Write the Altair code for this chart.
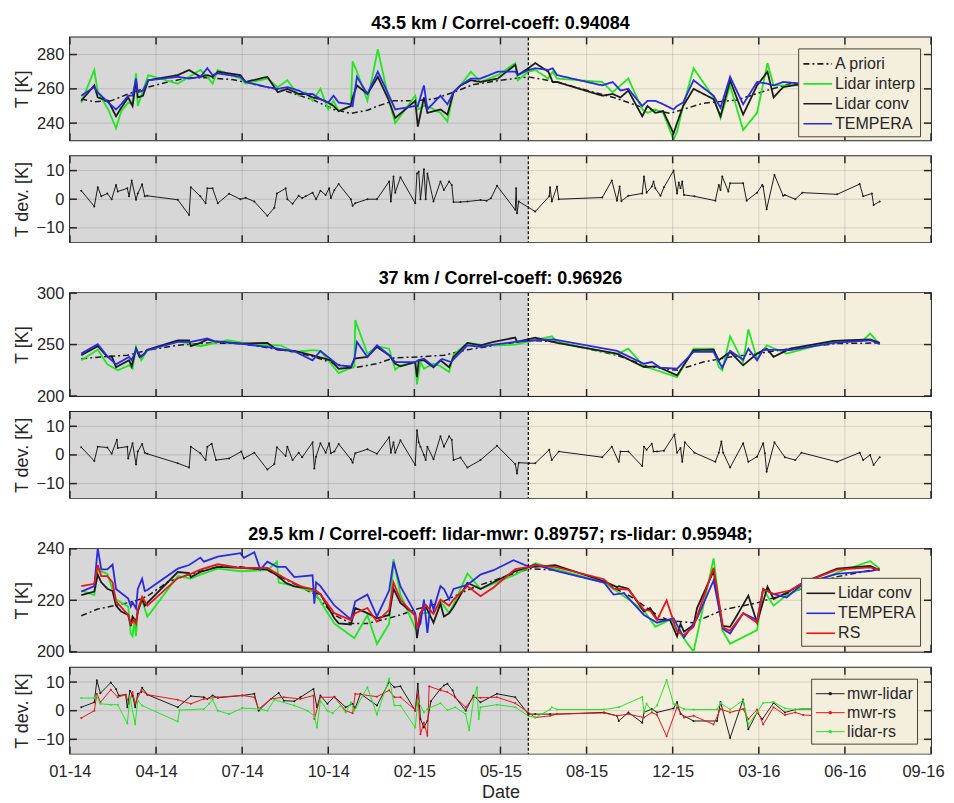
import altair as alt
import pandas as pd

FONT = "Liberation Sans"
INK = "#262626"
GRAY_BG = "#d7d7d7"
BEIGE_BG = "#f4eedd"
GREEN = "#22e622"
BLUE = "#2a2ae0"
RED = "#e8161b"
BLACK = "#1c1c1c"

W = 862
H_MAIN = 103
H_DEV = 86

BASE = pd.Timestamp("2014-01-01")
X_START, X_END = "2014-01-07", "2016-09-23"
SPLIT_DATE = "2015-06-18"
TICK_DATES = ["2014-01-07", "2014-04-16", "2014-07-24", "2014-10-31", "2015-02-07",
              "2015-05-17", "2015-08-24", "2015-12-01", "2016-03-09", "2016-06-16", "2016-09-23"]

TITLES = ["43.5 km / Correl-coeff: 0.94084",
          "37 km / Correl-coeff: 0.96926",
          "29.5 km / Correl-coeff: lidar-mwr: 0.89757;  rs-lidar: 0.95948;"]

# ---- data: (day since 2014-01-01, value) ----
P43_APRIORI = [(19,254),(34,252.5),(53,253),(73,257),(96,261),(119,264),(142,266.5),(164,266.5),(194,265.3),(225,261.8),(256,258.4),(286,253.5),(309,248),(329,245.7),(348,247.5),(360,250),(378,253),(401,253),(424,254),(447,258),(470,262.5),(501,265),(533,267),(566,264),(601,259),(631,255),(665,249),(696,245.7),(734,251.6),(773,253.5),(803,258.4),(834,263),(868,265),(903,266),(937,266)]
P43_INTERP = [(19,252),(34,271),(38,258),(50,248),(59,237),(65,247),(73,252),(78,251),(82,269),(84,250),(90,259),(96,268),(130,263),(143,267),(156,271),(164,267),(170,263),(176,271),(202,266),(208,263),(233,266),(245,261),(256,265),(269,256),(277,258),(285,253),(294,260),(303,248),(309,253),(315,247),(329,250),(331,276),(336,270),(348,253),(360,283),(372,255),(380,240),(403,256),(406,248),(413,250),(417,250),(432,246),(440,241),(447,258),(455,262),(467,270),(478,264),(498,268),(518,275),(521,265),(533,270),(541,271),(556,266),(561,270),(566,266),(618,264),(630,258),(639,262),(648,266),(664,248),(670,246),(679,248),(688,246),(700,230.5),(704,235),(711,250),(723,272),(746,255),(754,243),(765,262),(780,236),(796,246),(808,275),(815,262),(826,262),(848,262),(888,265),(914,267),(926,262),(937,262)]
P43_CONV = [(19,253),(34,262),(38,255),(50,253),(59,244),(65,249),(73,255),(78,250),(82,265),(84,255),(90,256),(96,265),(130,268),(143,271),(156,267),(164,268),(170,267),(176,270),(202,268),(208,264),(233,267),(245,258),(256,260),(269,257),(277,257),(285,255),(294,254),(303,252),(309,250),(315,247),(329,250),(331,255),(336,262),(348,257),(360,267),(372,254),(380,243),(403,253),(406,238),(413,255),(417,246),(432,248),(440,245),(447,258),(455,262),(467,265),(478,264),(498,266),(518,274),(521,268),(533,272),(541,275),(556,270),(561,264),(566,264),(618,256),(630,257),(639,255),(648,259),(664,244),(670,250),(679,246),(688,247),(700,234),(704,240),(711,250),(723,260),(746,254),(754,244),(765,265),(780,245),(796,262),(808,270),(815,255),(826,261),(848,263),(888,264),(914,266),(926,262),(937,263)]
P43_TEMPERA = [(19,256),(34,261),(38,258),(50,252),(59,248),(65,251),(73,256),(78,256),(82,266),(84,258),(90,259),(96,265),(130,267),(143,266),(156,267),(164,272),(170,268),(176,269),(202,267),(208,264),(233,261),(245,260),(256,261),(269,259),(277,257),(285,257),(294,254),(303,252),(309,256),(315,252),(329,251),(331,250),(336,267),(348,257),(360,270),(372,257),(380,248),(403,250),(406,250),(413,262),(417,248),(432,256),(440,251),(447,258),(455,262),(467,266),(478,266),(498,270),(518,270),(521,268),(533,271),(541,272),(556,271),(561,272),(566,268),(618,262),(630,264),(639,259),(648,260),(664,250),(670,253),(679,253),(688,251),(700,248),(704,250),(711,252),(723,265),(746,256),(754,249),(765,267),(780,251),(796,264),(808,263),(815,262),(826,264),(848,263),(888,264),(914,265),(926,263),(937,262)]
P43_DEV = [(19,3),(34,-2.5),(38,4.2),(42,1),(49,2),(54,0),(59,5),(61,2.7),(72,3.8),(74,1),(77,6.5),(82,-0.2),(84,2),(89,5.2),(92,1),(95,1.2),(130,-0.2),(143,-5.5),(145,4.2),(156,1),(162,-1.4),(164,3.8),(170,3.8),(176,-1.4),(189,1.9),(202,0),(208,0.5),(218,-0.8),(233,-5.8),(241,-3),(244,2),(254,3.8),(256,0),(262,-1.6),(269,1.2),(273,0.4),(277,1),(285,2.3),(289,0),(294,3),(300,1.5),(304,3.8),(306,0.4),(310,3.2),(315,5.3),(329,0),(331,-2.3),(334,-1.4),(348,0),(359,0),(373,6.2),(375,-0.8),(378,7.9),(380,2.3),(386,7.7),(403,-1.4),(405,9),(407,9.6),(409,0),(413,10.5),(415,0),(417,9),(424,-0.8),(432,6.2),(436,3.2),(442,6.2),(445,5),(447,-1),(455,-1),(463,-0.8),(478,-0.3),(485,-0.5),(490,0.3),(497,4.7),(518,-3.7),(519,3.8),(520,-4.9),(522,-0.8),(541,-4.3),(557,1),(558,4.2),(560,-0.8),(566,4.4),(568,0),(618,0.6),(629,6.5),(635,-0.5),(638,4.4),(640,-0.6),(648,1.2),(664,2),(666,7.9),(669,2.3),(675,4.4),(677,6.2),(679,3.8),(685,1.2),(689,4.2),(700,10),(704,2),(706,5.8),(708,3.8),(710,6.2),(712,1.5),(724,1),(748,-0.5),(752,5),(754,3.2),(756,7.9),(763,2.7),(765,5.6),(780,5.6),(784,-0.5),(796,2.3),(802,5),(803,4.4),(807,-3.5),(816,8.5),(826,1.2),(828,1.5),(840,0),(848,2.3),(888,1.7),(914,5.3),(918,1),(928,2),(930,-2),(937,-0.8)]

P37_APRIORI = [(19,236.3),(42,238),(72,239.6),(95,244.5),(130,249.3),(164,251.6),(202,251),(233,247),(264,242.8),(287,238),(310,231.4),(333,227.5),(359,231.4),(378,237),(405,238),(436,239.6),(463,245),(478,247),(534,254.2),(566,252.6),(635,239.6),(670,228.8),(704,225),(734,233),(765,238),(796,241.2),(834,246),(888,251),(937,251.6)]
P37_INTERP = [(19,234.7),(38,245),(49,230.8),(61,225),(74,229.8),(78,226.5),(82,247.7),(88,234.7),(95,244.5),(130,253),(143,251),(156,248.4),(187,254.2),(218,250),(248,249.3),(264,242.8),(285,244.5),(294,243.8),(315,222.3),(333,228.8),(334,273.8),(348,241.2),(359,248.4),(373,246),(380,225.6),(386,229.8),(403,233),(405,211.2),(409,233),(413,226.5),(424,231.4),(432,229),(442,223.3),(447,240),(463,251.6),(478,250),(497,249.3),(518,250),(541,254.2),(560,258),(566,252.6),(635,240.5),(648,246),(666,228.8),(675,226.5),(704,218.4),(723,246),(746,246),(752,228.2),(756,225),(765,258),(780,233),(786,264.7),(796,236.3),(807,249.3),(830,241.2),(884,253.3),(918,254.2),(926,260.7),(937,250.3)]
P37_CONV = [(19,239.6),(38,248.4),(49,238),(54,238.6),(59,228),(74,234.7),(77,228.8),(82,246),(86,238),(91,240.5),(95,245),(130,254),(143,254),(145,248.4),(156,251.6),(164,255),(172,253),(202,251),(233,251.6),(244,245),(264,243.8),(285,239.6),(306,234.7),(315,226.5),(329,227.5),(333,236.3),(348,238),(359,247.7),(373,239.6),(380,231.4),(386,228.8),(403,233),(405,218.4),(407,234.7),(413,234.7),(424,228),(432,234.7),(442,228),(447,238),(463,251.6),(478,249.3),(493,252.6),(518,256.8),(520,252.6),(541,256.8),(566,251.6),(635,241.2),(666,228.2),(681,228.8),(704,220),(723,244.5),(746,245),(752,234.7),(757,238),(765,242.8),(780,229.8),(796,241.2),(807,246),(815,238),(834,246),(884,253.6),(926,254.9),(937,251.6)]
P37_TEMPERA = [(19,241.2),(38,250.3),(49,238.6),(59,230.8),(74,238),(77,234.7),(82,245),(88,238),(95,244.5),(130,252.6),(145,252.6),(164,255.9),(172,253.3),(202,251),(233,247.7),(264,243.5),(285,234.7),(294,243.8),(315,229.8),(329,228.8),(333,235.3),(336,252.6),(348,238),(359,249.3),(373,239.6),(380,233),(403,233),(407,235),(413,236.3),(424,228.8),(434,236),(444,233),(463,249.3),(478,247.7),(493,250),(518,252.6),(541,254.2),(562,255),(635,243.8),(666,231.4),(675,233),(685,227.5),(704,226.5),(723,242.8),(746,242.8),(756,227.5),(765,243.8),(780,235.3),(786,246),(796,234.7),(803,245),(834,244.5),(884,251.6),(926,254.2),(937,250.3)]
P37_DEV = [(19,2.7),(34,-2.1),(38,2.9),(49,2.6),(54,0.4),(60,5.3),(61,2.4),(72,2.9),(73,-1.2),(78,4.1),(82,-3.3),(84,1.2),(89,3.8),(92,0.8),(95,0.4),(130,-2.9),(143,-4.4),(145,2.9),(156,0.6),(162,-1.8),(164,2.9),(169,3.9),(174,-1.8),(189,-1.2),(203,1.2),(206,-1.2),(218,0.8),(233,-5.1),(241,-3.2),(244,2.7),(254,-0.4),(256,2.9),(262,-1.8),(269,0.8),(273,-0.8),(285,4.4),(287,-4.7),(289,-0.6),(294,4.1),(300,0.8),(304,4.1),(306,0.6),(310,1.2),(315,3.8),(329,-1.5),(331,-2.7),(334,0.6),(348,2),(359,0.4),(373,6.2),(375,0.8),(378,4.4),(380,0.8),(386,5.1),(403,-3.5),(405,8.6),(407,4.4),(409,2.9),(413,0),(415,-1.8),(417,2.9),(424,-1.5),(432,6.5),(436,2.9),(442,6.5),(445,5.3),(447,-1.8),(455,-0.9),(463,-4.4),(478,-1.8),(497,3.2),(518,-3.2),(520,-6.5),(522,-2.7),(534,-2.9),(541,-2.9),(557,1.8),(560,-1.8),(568,1.2),(618,-0.8),(629,2.9),(637,-2.4),(639,1.2),(648,1.2),(664,-3.9),(666,2.9),(669,1.8),(675,3.9),(677,1.2),(681,1.2),(689,1.5),(701,7.1),(704,0.8),(708,2.4),(710,-2.4),(713,4.4),(724,0.8),(748,-2.4),(752,0.8),(755,4.7),(757,0.8),(765,-4.4),(780,4.1),(786,-2.4),(796,-0.6),(803,4.1),(805,0.6),(807,-5.9),(816,4.4),(828,-0.8),(840,-1.8),(847,0.8),(888,-2.4),(914,0.8),(918,-1.8),(926,0),(930,-3.5),(937,-0.8)]

P29_APRIORI = [(19,214),(38,216.6),(57,217.9),(80,219.6),(95,221.6),(118,227),(145,230.3),(176,233),(202,233),(233,231.7),(264,226.4),(287,222.4),(310,214.3),(329,211),(348,211),(367,212.5),(386,214.3),(405,216.6),(432,219),(463,224),(478,226),(534,232.3),(566,231.7),(620,226.9),(650,221.6),(681,214.3),(696,212),(723,211.3),(757,216.3),(796,219),(834,222.9),(888,229.2),(937,232.3)]
P29_INTERP = [(19,223.8),(34,222),(38,231.7),(49,230.3),(59,220.3),(73,217.6),(76,207),(78,206),(80,212),(82,206),(84,216),(89,220),(95,213.6),(130,229.4),(145,228.4),(156,230),(176,232.3),(202,231.3),(233,231.7),(244,235),(246,226.9),(264,225.5),(285,223.5),(289,222.2),(310,210.9),(333,205.3),(348,214.3),(359,203),(373,210.9),(378,236),(386,222.2),(405,207.7),(409,215),(424,215.2),(432,219.6),(442,215),(447,218.3),(463,230.4),(478,224.4),(497,227),(518,230),(541,234.4),(566,232),(620,226.9),(643,221.6),(666,216),(679,209.7),(696,212.5),(723,200),(746,236.3),(756,208.4),(765,203.1),(796,208.4),(803,224.4),(815,217.9),(830,222),(849,225),(888,230.8),(926,235.2),(937,232.3)]
P29_CONV = [(19,222),(34,223.4),(38,230),(42,227),(49,224.5),(55,223.6),(59,217.9),(65,215.6),(73,214.3),(76,210),(78,213.7),(82,211.7),(84,215.6),(89,220.7),(92,217.9),(95,219),(130,231),(143,230.6),(145,229),(156,231),(176,233),(202,232.6),(233,232),(244,229.7),(254,226.8),(264,225.4),(285,224.4),(289,222.8),(294,222.4),(310,213),(315,211),(329,210.6),(334,217),(348,215),(359,213),(373,214.3),(378,224.5),(386,219),(403,214.3),(405,205.3),(409,215),(415,217.6),(424,211.3),(432,218.7),(436,213.7),(442,215),(447,217.4),(463,226.8),(478,224.4),(493,227),(518,231.3),(534,233),(541,233),(564,233.7),(620,227.4),(635,225.1),(637,225.5),(648,224.5),(666,215.6),(673,217),(681,212.6),(696,212.3),(704,206),(708,210.8),(712,207.8),(723,210.4),(727,217),(746,231.3),(756,210),(765,209.7),(771,213),(786,221.8),(796,211.3),(808,225.3),(815,220.5),(834,223.6),(849,226.9),(888,232.3),(926,233.4),(937,231.7)]
P29_TEMPERA = [(19,223.4),(34,225.5),(38,240.3),(42,232),(49,232),(55,233.9),(59,224.4),(73,220.7),(76,217.6),(78,219.2),(82,216.8),(84,224.4),(89,228.4),(92,223.6),(95,224),(130,232.3),(143,233.7),(156,236.6),(160,235),(176,237),(202,238.3),(206,236.5),(218,238.7),(225,232),(233,235),(244,233),(254,233),(264,229),(285,229.7),(287,218.7),(289,227),(294,225.5),(310,218),(329,212.6),(334,219.6),(348,222.2),(359,213.7),(373,223.8),(378,235),(386,225.4),(403,215),(405,208.6),(409,211),(413,220.3),(417,207.3),(421,220.3),(424,216.3),(432,225.5),(436,224.4),(442,220.3),(447,224.4),(463,226),(478,230),(493,231.7),(516,235.6),(534,233),(541,233.9),(566,231.3),(620,226.9),(631,222.2),(643,222.8),(666,214.3),(681,211.3),(700,213),(712,205.5),(727,213),(746,227.7),(757,208.8),(765,207.1),(780,215),(796,212.3),(803,224.4),(815,222.4),(830,221.1),(849,226.5),(888,230.3),(926,231.3),(937,232.1)]
P29_RS = [(19,225.5),(34,226.4),(38,233.7),(42,229.4),(49,229.4),(55,227),(59,219.6),(73,214.3),(76,210.8),(80,212.3),(82,210.8),(84,216.3),(89,221.3),(95,217.9),(130,228.6),(145,230.3),(156,231.9),(176,234),(202,232.6),(233,232.6),(254,228.4),(271,225.5),(289,223.8),(294,222.4),(310,215),(329,212.3),(334,215),(348,217),(359,211.7),(373,216.3),(378,226.9),(386,220.3),(403,213.9),(405,209),(409,215),(415,218.3),(424,214.7),(432,220.3),(442,217.9),(447,220.3),(463,225.5),(478,221.6),(493,225),(518,232.1),(534,233),(541,233.7),(564,233),(620,228.2),(631,224.5),(648,224.2),(666,216.3),(673,216),(681,212.3),(692,220),(704,207.8),(712,206.5),(723,209.7),(746,232.6),(757,209.4),(765,208.1),(780,215),(796,211.3),(803,224.4),(815,222.4),(834,223.8),(849,226.9),(888,231.9),(926,232.8),(937,231.7)]
P29_MWR_LIDAR = [(19,1.2),(34,2.9),(37,10.6),(41,6.1),(53,9.8),(59,7.6),(62,5.3),(70,5.6),(72,1.2),(75,7),(78,5.3),(81,1.2),(84,5.9),(88,6.5),(89,8),(95,5.6),(130,1.2),(145,5.1),(160,4.7),(164,4.1),(170,5.3),(176,4.5),(204,5.3),(218,5.9),(223,0),(237,4.1),(246,6.2),(252,3.5),(264,3.3),(271,4.7),(286,7.6),(290,1.2),(294,5.3),(302,2.4),(310,4.9),(323,1.2),(331,2.4),(334,0.9),(340,5.9),(359,1.8),(373,10),(379,8.2),(386,8.5),(403,0),(406,9.4),(409,-2.9),(413,-5.9),(417,-3.5),(421,3.3),(432,7.6),(436,8.8),(440,9.4),(446,7.1),(449,4.7),(461,0),(470,5.3),(478,2.9),(497,5.9),(518,4.7),(533,-1.2),(541,-1.2),(558,-1.2),(566,-1.2),(620,-0.6),(635,-1.8),(637,-3.6),(648,-0.6),(664,-4.2),(666,-0.6),(675,0.6),(681,-0.6),(700,0.8),(704,3),(708,-1.2),(723,-3.6),(750,-3.6),(754,3),(765,-9.5),(780,3.9),(786,-6.5),(796,-0.6),(802,-3),(815,2.7),(828,-0.6),(840,0.4),(849,0.6),(888,0.5),(926,0),(937,0)]
P29_MWR_RS = [(19,-2.6),(34,0),(37,5.9),(41,2.9),(53,7.3),(61,4.7),(70,5.6),(74,2.4),(78,6.5),(81,2.6),(88,7.1),(95,5.6),(130,3.8),(145,2.4),(160,4.1),(176,4.7),(204,5.3),(218,4.7),(223,0.6),(237,4.1),(252,4.7),(271,4.1),(286,5.3),(287,-2.9),(294,4.7),(310,4.7),(323,0),(331,-0.9),(334,5.9),(359,4.9),(373,7.1),(379,4.7),(386,4.7),(403,0.2),(406,5.9),(409,-8.2),(413,-4.1),(417,-8.8),(419,8.5),(432,7.1),(440,6.5),(449,4.7),(461,1.2),(470,4.7),(478,4.5),(497,4.7),(518,2.6),(533,-0.6),(541,-2.4),(558,-1.8),(566,-1.2),(620,-0.8),(635,-1.8),(648,-1.2),(666,-2.4),(675,-0.6),(681,-1.5),(692,-8.9),(704,1.2),(712,-2.4),(723,-1.8),(746,-4.8),(754,0.6),(765,-0.6),(780,0.6),(786,-3),(796,0.4),(803,-4.8),(815,1.2),(828,-1.5),(840,-0.6),(849,-1.5),(865,-1.8),(888,-1),(926,-0.5),(937,-0.5)]
P29_LIDAR_RS = [(19,4.4),(34,4.4),(37,5),(41,2.4),(53,2.1),(61,2.1),(72,-4.5),(75,4.7),(81,-4.7),(84,3.5),(89,1.8),(130,-3.8),(132,0.2),(160,0.6),(166,2.4),(170,3.8),(176,0),(189,-1.2),(204,0.9),(223,0.6),(233,0),(241,3.8),(264,1.8),(279,0),(287,-1.8),(290,-5.9),(294,3.5),(302,0),(308,-0.9),(317,1.8),(323,-0.6),(329,2.9),(333,0),(348,8.2),(359,-1.4),(373,11.2),(379,1.8),(386,1.8),(403,-5.9),(406,3.5),(413,-0.6),(417,0.6),(432,2.6),(440,0.2),(449,1.2),(461,-1.2),(465,-6.8),(470,3.8),(474,8.2),(476,-2.9),(478,1.2),(497,2.1),(518,1.2),(533,-1.8),(541,-2.4),(558,0.4),(560,1.2),(566,0.4),(620,0.4),(637,1.2),(664,4.8),(666,-0.6),(669,2.4),(675,0),(681,1.8),(692,10.7),(700,2.4),(704,1.8),(712,0.6),(723,0.4),(750,0.4),(754,2.7),(765,0.4),(780,3.6),(786,-4.8),(796,-0.6),(803,2.7),(815,3),(828,0.8),(840,0.4),(849,0.6),(865,0.6),(888,0.5),(926,0.5),(937,0.3)]

DEV_TICKS = [-10, 0, 10]


def day_str(d):
    return (BASE + pd.Timedelta(days=int(d))).strftime("%Y-%m-%d")


def dt(s):
    y, m, d = (int(t) for t in s.split("-"))
    return alt.DateTime(year=y, month=m, date=d, utc=True)


def to_df(pairs, name):
    return pd.DataFrame({"date": [day_str(d) for d, _ in pairs],
                         "v": [v for _, v in pairs], "series": name})


LINE_SYMBOL = "M-1,0H1.8"
DOT_LINE_SYMBOL = "M-1,0H1.8M0.3,-0.1H0.5V0.1H0.3Z"


def make_legend(x, y, sym_type=LINE_SYMBOL, sym_w=1.6):
    return alt.Legend(orient="none", legendX=x, legendY=y, title=None,
                      fillColor=BEIGE_BG, strokeColor="#4a4536", padding=4,
                      rowPadding=0, symbolType=sym_type, symbolSize=420,
                      symbolStrokeWidth=sym_w, labelFontSize=16, labelFont=FONT,
                      labelColor=INK, labelOffset=10)


# the last date label is nudged left a little so it stays inside the page
LAST_LABEL_SHIFT = {"condition": {"test": "datum.value > 1470000000000", "value": -8},
                    "value": 0}


def build_panel(height, ydom, yticks, ytitle, line_specs, show_x=False, title=None,
                title_offset=4):
    xs = alt.Scale(type="utc", domain=[dt(X_START), dt(X_END)])
    if show_x:
        xaxis = alt.Axis(values=[dt(s) for s in TICK_DATES], format="%m-%y", title="Date",
                         labelFontSize=16.5, labelFont=FONT, labelColor=INK,
                         titleFontSize=18, titleFont=FONT, titleColor=INK,
                         titleFontWeight="normal", ticks=False, tickSize=0, domain=False,
                         grid=False, labelPadding=10, titlePadding=3, labelOverlap=False,
                         labelFlush=False, labelOffset=LAST_LABEL_SHIFT)
    else:
        xaxis = None
    ys = alt.Scale(domain=ydom, nice=False, zero=False)
    yaxis = alt.Axis(values=yticks, title=ytitle, labelFontSize=16.5, labelFont=FONT,
                     labelColor=INK, titleFontSize=18, titleFont=FONT, titleColor=INK,
                     titleFontWeight="normal", ticks=False, tickSize=0, domain=False,
                     grid=False, labelPadding=6, titlePadding=4, minExtent=34,
                     maxExtent=34, labelOverlap=False, labelFlush=False)

    def X(f):
        return alt.X(f, type="temporal", scale=xs, axis=xaxis)

    def Y(f):
        return alt.Y(f, type="quantitative", scale=ys, axis=yaxis)

    tick_df = pd.DataFrame({"date": TICK_DATES})
    ytick_df = pd.DataFrame({"v": yticks})
    layers = [
        alt.Chart(pd.DataFrame({"a": [X_START], "b": [SPLIT_DATE]})).mark_rect(color=GRAY_BG)
        .encode(x=X("a"), x2=alt.X2("b"), y=alt.value(0), y2=alt.value(height)),
        alt.Chart(pd.DataFrame({"a": [SPLIT_DATE], "b": [X_END]})).mark_rect(color=BEIGE_BG)
        .encode(x=X("a"), x2=alt.X2("b"), y=alt.value(0), y2=alt.value(height)),
        alt.Chart(tick_df).mark_rule(color="#000000", opacity=0.13, strokeWidth=1)
        .encode(x=X("date")),
        alt.Chart(ytick_df).mark_rule(color="#000000", opacity=0.13, strokeWidth=1)
        .encode(y=Y("v")),
    ]
    for spec in line_specs:
        pairs, name, color, width = spec["pairs"], spec["name"], spec["color"], spec["width"]
        kw = dict(strokeWidth=width, clip=True)
        enc = dict(x=X("date"), y=Y("v"))
        if spec.get("legend") is None:
            kw["color"] = color
            if spec.get("dash"):
                kw["strokeDash"] = spec["dash"]
            if spec.get("point"):
                kw["point"] = alt.OverlayMarkDef(filled=True, size=spec["point"], color=color)
        else:
            names, colors, dashes, leg = spec["legend"]
            enc["color"] = alt.Color("series:N", scale=alt.Scale(domain=names, range=colors),
                                     legend=leg)
            if dashes is not None:
                enc["strokeDash"] = alt.StrokeDash("series:N",
                                                   scale=alt.Scale(domain=names, range=dashes),
                                                   legend=leg)
            if spec.get("point"):
                kw["point"] = alt.OverlayMarkDef(filled=True, size=spec["point"])
        layers.append(alt.Chart(to_df(pairs, name)).mark_line(**kw).encode(**enc))
    layers += [
        alt.Chart(pd.DataFrame({"date": [SPLIT_DATE]}))
        .mark_rule(color="#000000", strokeDash=[3, 2], strokeWidth=1.2).encode(x=X("date")),
        alt.Chart(tick_df).mark_rule(color=INK, strokeWidth=1.5)
        .encode(x=X("date"), y=alt.value(0), y2=alt.value(7)),
        alt.Chart(tick_df).mark_rule(color=INK, strokeWidth=1.5)
        .encode(x=X("date"), y=alt.value(height - 7), y2=alt.value(height)),
        alt.Chart(ytick_df).mark_rule(color=INK, strokeWidth=1.5)
        .encode(y=Y("v"), x=alt.value(0), x2=alt.value(7)),
        alt.Chart(ytick_df).mark_rule(color=INK, strokeWidth=1.5)
        .encode(y=Y("v"), x=alt.value(W - 7), x2=alt.value(W)),
    ]
    props = dict(width=W, height=height)
    if title:
        props["title"] = alt.TitleParams(text=title, fontSize=18, fontWeight="bold", font=FONT,
                                         color="#000000", anchor="middle", frame="group",
                                         offset=title_offset)
    return alt.layer(*layers).properties(**props)


def spacer(height):
    return (alt.Chart(pd.DataFrame({"a": [0]})).mark_point(opacity=0)
            .encode(x=alt.X("a:Q", axis=None), y=alt.Y("a:Q", axis=None))
            .properties(width=W, height=height,
                        view=alt.ViewBackground(stroke="transparent", strokeWidth=0)))


MAIN_W = 1.8
DEV_W = 1.0

# ---- panel 1: 43.5 km ----
N1 = ["A priori", "Lidar interp", "Lidar conv", "TEMPERA"]
C1 = [BLACK, GREEN, BLACK, BLUE]
D1 = [[6, 3, 2, 3], [1, 0], [1, 0], [1, 0]]
LEG1 = make_legend(729, 11)
L1 = (N1, C1, D1, LEG1)
p1 = build_panel(H_MAIN, [230, 290], [240, 260, 280], "T [K]", [
    dict(pairs=P43_APRIORI, name="A priori", color=BLACK, width=1.5, legend=L1),
    dict(pairs=P43_INTERP, name="Lidar interp", color=GREEN, width=MAIN_W, legend=L1),
    dict(pairs=P43_CONV, name="Lidar conv", color=BLACK, width=MAIN_W, legend=L1),
    dict(pairs=P43_TEMPERA, name="TEMPERA", color=BLUE, width=MAIN_W, legend=L1),
], title=TITLES[0], title_offset=4)
p2 = build_panel(H_DEV, [-15, 15], DEV_TICKS, "T dev. [K]", [
    dict(pairs=P43_DEV, name="dev", color=BLACK, width=DEV_W, point=4),
])

# ---- panel 3: 37 km ----
p3 = build_panel(H_MAIN, [200, 300], [200, 250, 300], "T [K]", [
    dict(pairs=P37_APRIORI, name="A priori", color=BLACK, width=1.5, dash=[6, 3, 2, 3]),
    dict(pairs=P37_INTERP, name="Lidar interp", color=GREEN, width=MAIN_W),
    dict(pairs=P37_CONV, name="Lidar conv", color=BLACK, width=MAIN_W),
    dict(pairs=P37_TEMPERA, name="TEMPERA", color=BLUE, width=MAIN_W),
], title=TITLES[1], title_offset=-3)
p4 = build_panel(H_DEV, [-15, 15], DEV_TICKS, "T dev. [K]", [
    dict(pairs=P37_DEV, name="dev", color=BLACK, width=DEV_W, point=4),
])

# ---- panel 5: 29.5 km ----
N5 = ["Lidar conv", "TEMPERA", "RS"]
C5 = [BLACK, BLUE, RED]
LEG5 = make_legend(732, 29)
L5 = (N5, C5, None, LEG5)
p5 = build_panel(H_MAIN, [200, 240], [200, 220, 240], "T [K]", [
    dict(pairs=P29_APRIORI, name="A priori", color=BLACK, width=1.5, dash=[6, 3, 2, 3]),
    dict(pairs=P29_INTERP, name="Lidar interp", color=GREEN, width=MAIN_W),
    dict(pairs=P29_CONV, name="Lidar conv", color=BLACK, width=MAIN_W, legend=L5),
    dict(pairs=P29_TEMPERA, name="TEMPERA", color=BLUE, width=MAIN_W, legend=L5),
    dict(pairs=P29_RS, name="RS", color=RED, width=MAIN_W, legend=L5),
], title=TITLES[2], title_offset=-3)

N6 = ["mwr-lidar", "mwr-rs", "lidar-rs"]
C6 = [BLACK, RED, GREEN]
LEG6 = make_legend(742, 11, sym_type=DOT_LINE_SYMBOL, sym_w=1.0)
L6 = (N6, C6, None, LEG6)
p6 = build_panel(H_DEV, [-15, 15], DEV_TICKS, "T dev. [K]", [
    dict(pairs=P29_MWR_LIDAR, name="mwr-lidar", color=BLACK, width=DEV_W, point=4, legend=L6),
    dict(pairs=P29_MWR_RS, name="mwr-rs", color=RED, width=DEV_W, point=4, legend=L6),
    dict(pairs=P29_LIDAR_RS, name="lidar-rs", color=GREEN, width=DEV_W, point=4, legend=L6),
], show_x=True)

chart = (
    alt.vconcat(p1, p2, spacer(19), p3, p4, spacer(19), p5, p6, spacing=16, bounds="flush")
    .resolve_scale(x="independent", y="independent", color="independent",
                   strokeDash="independent")
    .resolve_legend(color="independent", strokeDash="independent")
    .properties(padding={"left": 5, "top": 5, "right": 0, "bottom": 0})
    .configure(font=FONT)
    .configure_view(stroke=INK, strokeWidth=1.8)
)

chart.save("out.html", embed_options={"renderer": "svg", "actions": False})
